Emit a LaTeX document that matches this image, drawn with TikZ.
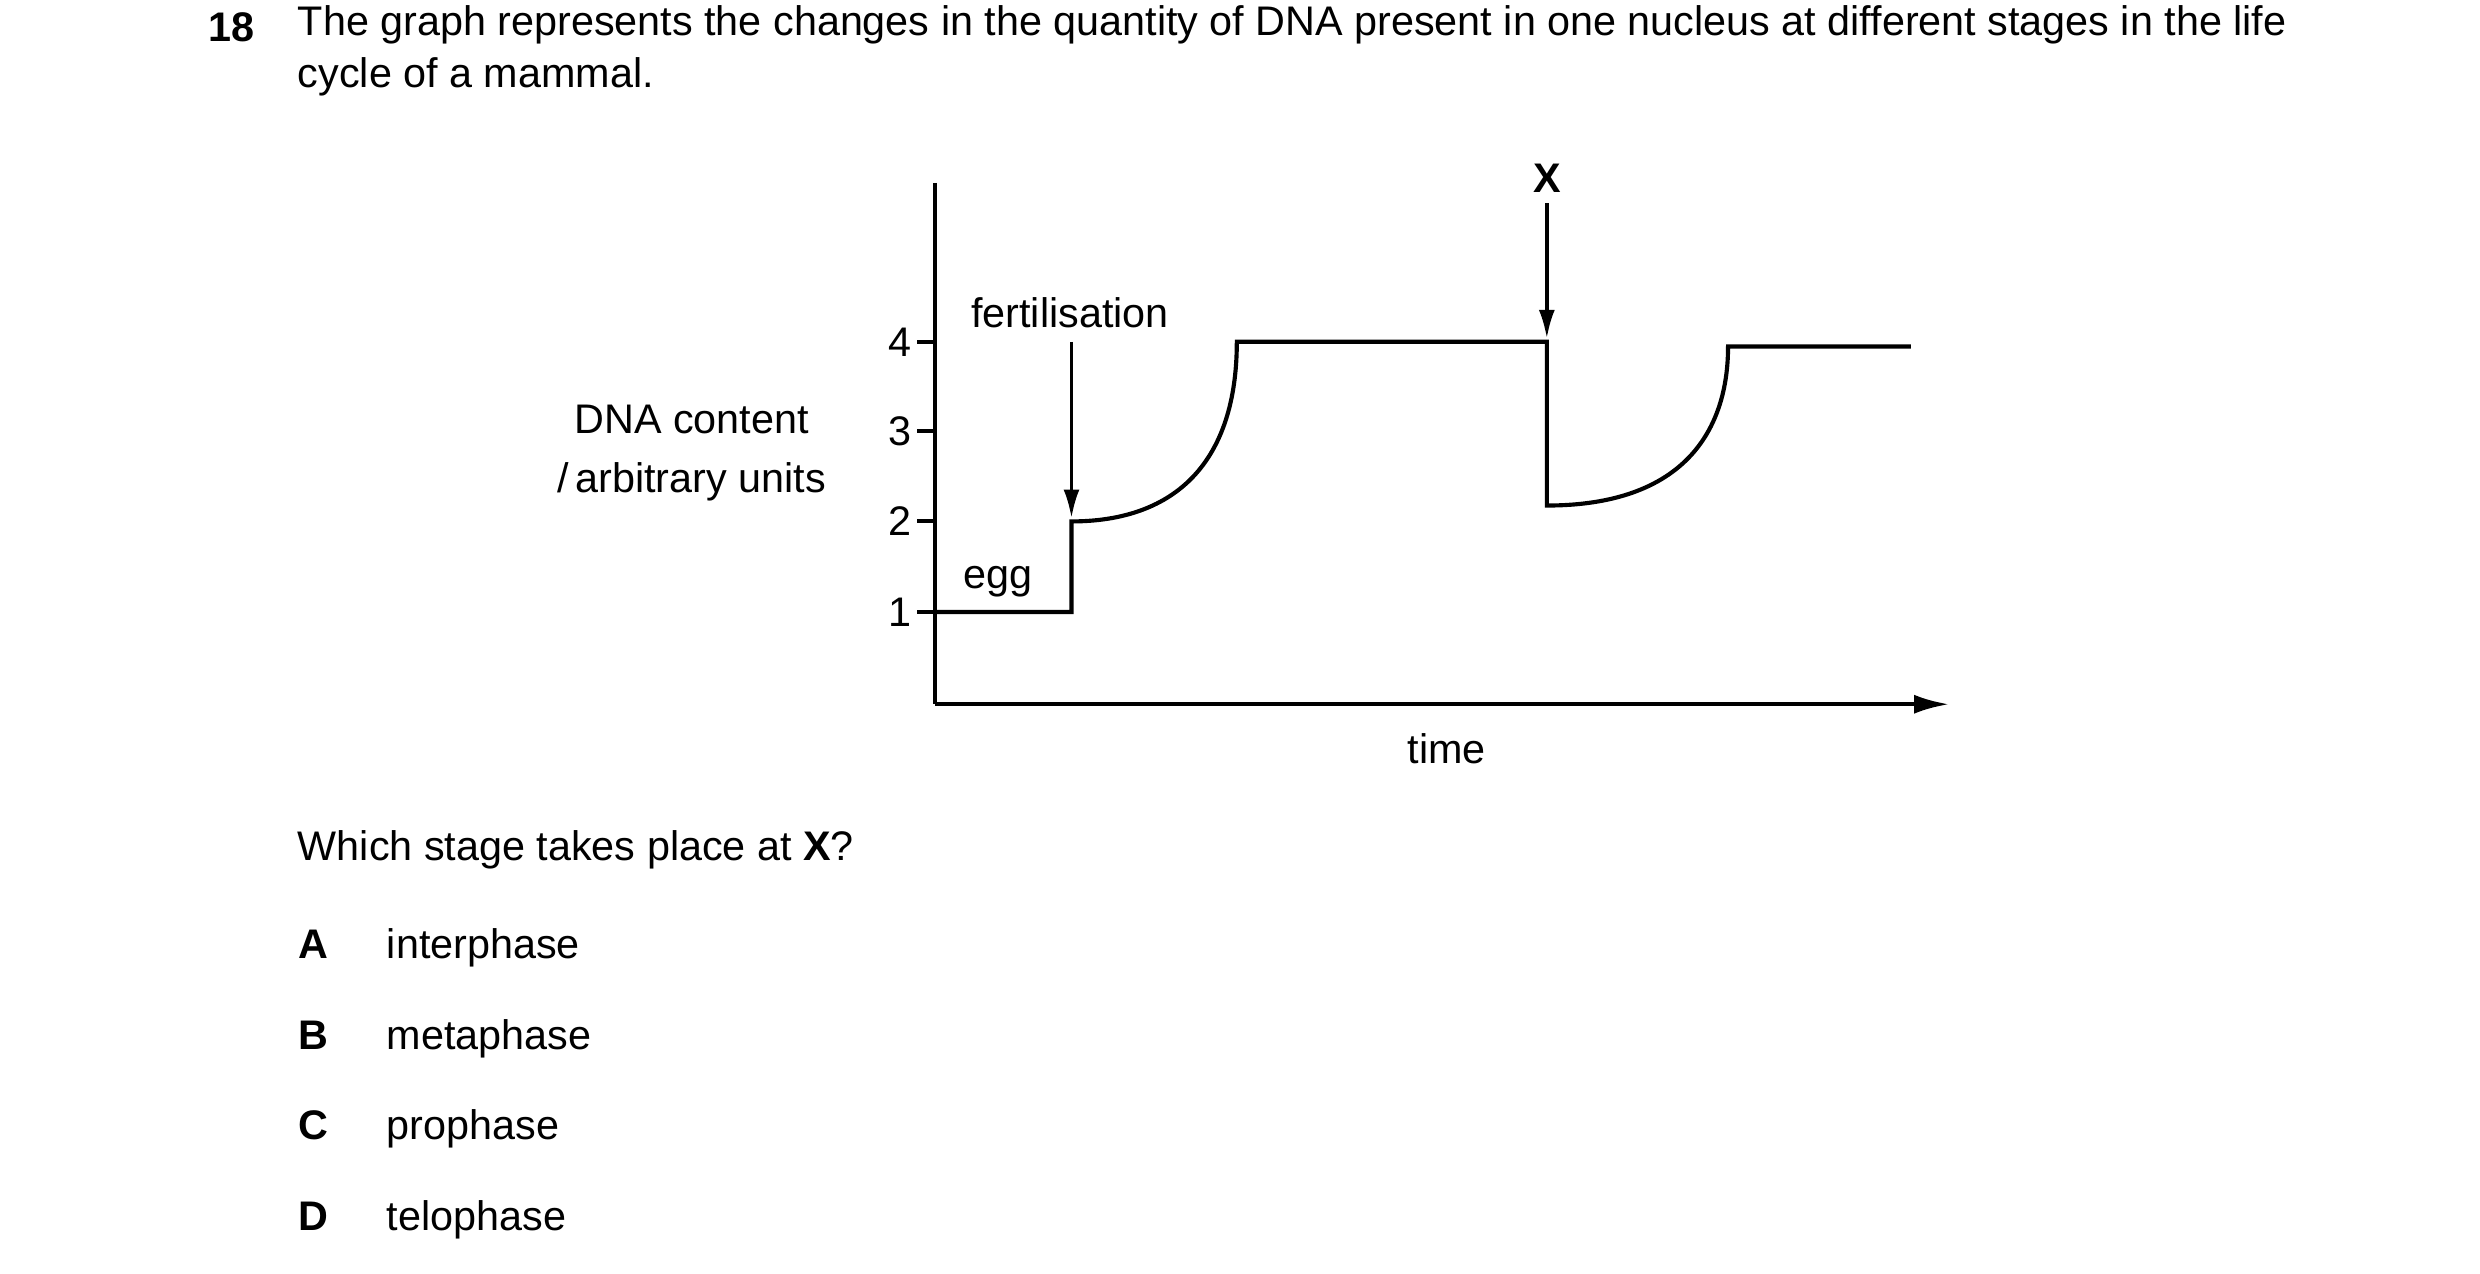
\documentclass[tikz,border=0pt]{standalone}
\usepackage{fontspec}
\setmainfont{Liberation Sans}
\usetikzlibrary{arrows.meta}
\begin{document}
\begin{tikzpicture}[x=0.5pt,y=-0.5pt,font=\fontsize{13}{16.5}\selectfont,
  ln/.style={line width=1.3pt},
  arr/.style={line width=1.1pt,-{Latex[length=9pt,width=5pt]}},
  txt/.style={inner sep=0pt}]
\useasboundingbox (0,0) rectangle (1560,801);
% question
\node[txt,anchor=base west,font=\fontsize{13}{16.5}\selectfont\bfseries] (num) at (131,26) {18};
\node[txt,anchor=north west,text width=625.5pt,align=justify] (q) at (187,3) {The graph represents the changes in the quantity of DNA present in one nucleus at different stages in the life cycle of a mammal.};
% axes
\coordinate (o) at (588,443);
\coordinate (ytop) at (588,115);
\coordinate (xend) at (1226,443);
\draw[ln] (ytop) -- (o);
\draw[ln,-{Latex[length=11pt,width=6pt]}] (o) -- (xend);
\foreach \v/\y in {4/215,3/271,2/328,1/385}{
  \draw[ln] (577,\y) -- (588,\y);
  \node[txt,anchor=east] (t\v) at (574,\y) {\v};
}
% data path
\draw[ln] (588,385) -- (674,385) -- (674,328) .. controls (740,328) and (778,290) .. (778,215) -- (973,215) -- (973,318) .. controls (1060,318) and (1087,270) .. (1087,218) -- (1202,218);
% arrows
\node[txt] (fert) at (673,197) {fertilisation};
\coordinate (fs) at (674,215);
\coordinate (fe) at (674,326);
\draw[arr] (fs) -- (fe);
\node[txt,font=\fontsize{13}{16.5}\selectfont\bfseries] (X) at (973,112) {X};
\coordinate (xs) at (973,128);
\coordinate (xe) at (973,213);
\draw[arr] (xs) -- (xe);
\node[txt] (egg) at (628,366) {egg};
\node[txt] (time) at (910,471) {time};
\node[txt,align=center] (ylab) at (435,285) {DNA content\\[2pt]/\,arbitrary units};
% question 2
\node[txt,anchor=base west] (which) at (187,541) {Which stage takes place at \textbf{X}?};
\foreach \l/\t/\y in {A/interphase/603,B/metaphase/660,C/prophase/717,D/telophase/774}{
  \node[txt,anchor=base,font=\fontsize{13}{16.5}\selectfont\bfseries] (l\l) at (197,\y) {\l};
  \node[txt,anchor=base west] (o\l) at (243,\y) {\t};
}
\end{tikzpicture}
\end{document}
